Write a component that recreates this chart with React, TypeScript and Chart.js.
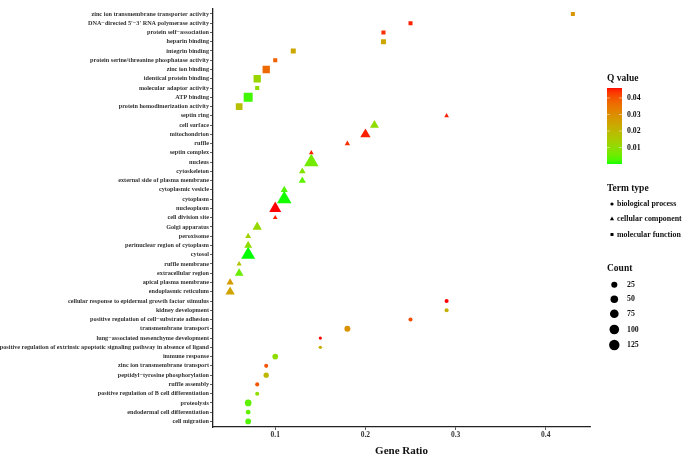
import { useEffect, useRef } from 'react';
import { Chart, registerables } from 'chart.js';
Chart.register(...registerables);

const categories = [
  'zinc ion transmembrane transporter activity',
  'DNA\u2212directed 5\'\u22123\' RNA polymerase activity',
  'protein self\u2212association',
  'heparin binding',
  'integrin binding',
  'protein serine/threonine phosphatase activity',
  'zinc ion binding',
  'identical protein binding',
  'molecular adaptor activity',
  'ATP binding',
  'protein homodimerization activity',
  'septin ring',
  'cell surface',
  'mitochondrion',
  'ruffle',
  'septin complex',
  'nucleus',
  'cytoskeleton',
  'external side of plasma membrane',
  'cytoplasmic vesicle',
  'cytoplasm',
  'nucleoplasm',
  'cell division site',
  'Golgi apparatus',
  'peroxisome',
  'perinuclear region of cytoplasm',
  'cytosol',
  'ruffle membrane',
  'extracellular region',
  'apical plasma membrane',
  'endoplasmic reticulum',
  'cellular response to epidermal growth factor stimulus',
  'kidney development',
  'positive regulation of cell\u2212substrate adhesion',
  'transmembrane transport',
  'lung\u2212associated mesenchyme development',
  'positive regulation of extrinsic apoptotic signaling pathway in absence of ligand',
  'immune response',
  'zinc ion transmembrane transport',
  'peptidyl\u2212tyrosine phosphorylation',
  'ruffle assembly',
  'positive regulation of B cell differentiation',
  'proteolysis',
  'endodermal cell differentiation',
  'cell migration',
];

const termTypes = [
  'MF', 'MF', 'MF', 'MF', 'MF', 'MF', 'MF', 'MF', 'MF', 'MF', 'MF',
  'CC', 'CC', 'CC', 'CC', 'CC', 'CC', 'CC', 'CC', 'CC', 'CC', 'CC', 'CC', 'CC', 'CC', 'CC', 'CC', 'CC', 'CC', 'CC', 'CC',
  'BP', 'BP', 'BP', 'BP', 'BP', 'BP', 'BP', 'BP', 'BP', 'BP', 'BP', 'BP', 'BP', 'BP',
];

const geneRatio = [
  0.43, 0.25, 0.22, 0.22, 0.12, 0.10, 0.09, 0.08, 0.08, 0.07, 0.06,
  0.29, 0.21, 0.20, 0.18, 0.14, 0.14, 0.13, 0.13, 0.11, 0.11, 0.10, 0.10, 0.08, 0.07, 0.07, 0.07, 0.06, 0.06, 0.05, 0.05,
  0.29, 0.29, 0.25, 0.18, 0.15, 0.15, 0.10, 0.09, 0.09, 0.08, 0.08, 0.07, 0.07, 0.07,
];

const qValue = [
  0.028, 0.045, 0.044, 0.024, 0.024, 0.038, 0.037, 0.012, 0.010, 0.002, 0.018,
  0.045, 0.010, 0.045, 0.044, 0.045, 0.006, 0.008, 0.004, 0.003, 0.0003, 0.046, 0.045, 0.011, 0.013, 0.010, 0.0001, 0.017, 0.005, 0.027, 0.025,
  0.046, 0.022, 0.041, 0.029, 0.046, 0.022, 0.010, 0.040, 0.020, 0.040, 0.010, 0.004, 0.004, 0.003,
];

const geneCount = [
  11, 11, 12, 24, 24, 12, 75, 75, 12, 130, 59,
  3, 37, 56, 6, 3, 140, 14, 19, 18, 140, 86, 3, 42, 9, 26, 128, 5, 34, 19, 42,
  7, 7, 7, 29, 2, 3, 25, 7, 20, 7, 7, 41, 12, 25,
];

const xTicks = [0.1, 0.2, 0.3, 0.4];
const qTicks = [0.01, 0.02, 0.03, 0.04];
const countBreaks = [25, 50, 75, 100, 125];
const termKeys = ['BP', 'CC', 'MF'];
const termNames = ['biological process', 'cellular component', 'molecular function'];

const FONT = "'Liberation Serif', 'Times New Roman', serif";

// ---------- colour scale (Lab interpolation green -> red) ----------
function toLab(rgb: number[]) {
  const lin = (c: number) => {
    c /= 255;
    return c <= 0.04045 ? c / 12.92 : Math.pow((c + 0.055) / 1.055, 2.4);
  };
  const [r, g, b] = rgb.map(lin);
  const X = (0.4124564 * r + 0.3575761 * g + 0.1804375 * b) / 0.95047;
  const Y = 0.2126729 * r + 0.7151522 * g + 0.072175 * b;
  const Z = (0.0193339 * r + 0.119192 * g + 0.9503041 * b) / 1.08883;
  const f = (t: number) => (t > 0.008856 ? Math.cbrt(t) : 7.787 * t + 16 / 116);
  const fx = f(X), fy = f(Y), fz = f(Z);
  return [116 * fy - 16, 500 * (fx - fy), 200 * (fy - fz)];
}
function fromLab(lab: number[]) {
  const [L, a, bb] = lab;
  const fy = (L + 16) / 116;
  const fx = fy + a / 500;
  const fz = fy - bb / 200;
  const inv = (t: number) => (t * t * t > 0.008856 ? t * t * t : (t - 16 / 116) / 7.787);
  const X = inv(fx) * 0.95047, Y = inv(fy), Z = inv(fz) * 1.08883;
  const r = 3.2404542 * X - 1.5371385 * Y - 0.4985314 * Z;
  const g = -0.969266 * X + 1.8760108 * Y + 0.041556 * Z;
  const b = 0.0556434 * X - 0.2040259 * Y + 1.0572252 * Z;
  const gam = (c: number) => {
    const v = c <= 0.0031308 ? 12.92 * c : 1.055 * Math.pow(c, 1 / 2.4) - 0.055;
    return Math.round(Math.max(0, Math.min(1, v)) * 255);
  };
  return `rgb(${gam(r)},${gam(g)},${gam(b)})`;
}
const LOW = toLab([0, 255, 0]);
const HIGH = toLab([255, 0, 0]);
const qMin = Math.min(...qValue);
const qMax = Math.max(...qValue);
function colorAtT(t: number) {
  const tt = Math.max(0, Math.min(1, t));
  return fromLab([0, 1, 2].map((i) => LOW[i] + (HIGH[i] - LOW[i]) * tt));
}
function qColor(q: number) {
  return colorAtT((q - qMin) / (qMax - qMin));
}

// ---------- size scale ----------
function baseR(c: number) {
  return 1.11 + 0.348 * Math.sqrt(c);
}
const shapeFactor: Record<string, number> = { BP: 1, CC: 1.6, MF: 1.253 };
const shapeStyle: Record<string, string> = { BP: 'circle', CC: 'triangle', MF: 'rect' };

const legendPlugin = {
  id: 'ggLegends',
  afterDraw(chart: any) {
    const ctx = chart.ctx as CanvasRenderingContext2D;
    ctx.save();
    ctx.textAlign = 'left';
    ctx.textBaseline = 'middle';

    // Q value colourbar
    ctx.fillStyle = '#111';
    ctx.font = `bold 9.5px ${FONT}`;
    ctx.fillText('Q value', 607, 79);
    const barX = 607, barW = 15, barTop = 88, barBot = 164;
    for (let y = barTop; y < barBot; y++) {
      const t = 1 - (y + 0.5 - barTop) / (barBot - barTop);
      ctx.fillStyle = colorAtT(t);
      ctx.fillRect(barX, y, barW, 1);
    }
    ctx.font = `bold 7.8px ${FONT}`;
    qTicks.forEach((v) => {
      const y = barBot - ((v - qMin) / (qMax - qMin)) * (barBot - barTop);
      ctx.strokeStyle = 'rgba(255,255,255,0.8)';
      ctx.lineWidth = 0.6;
      ctx.beginPath();
      ctx.moveTo(barX, y);
      ctx.lineTo(barX + 3, y);
      ctx.moveTo(barX + barW - 3, y);
      ctx.lineTo(barX + barW, y);
      ctx.stroke();
      ctx.fillStyle = '#111';
      ctx.fillText(v.toFixed(2), 627, y);
    });

    // Term type
    ctx.font = `bold 9.5px ${FONT}`;
    ctx.fillText('Term type', 607, 189);
    ctx.font = `bold 7.9px ${FONT}`;
    const termY = [204, 219, 234.5];
    termKeys.forEach((k, i) => {
      const y = termY[i];
      const x = 612;
      ctx.fillStyle = '#000';
      ctx.beginPath();
      if (k === 'BP') {
        ctx.arc(x, y, 1.6, 0, Math.PI * 2);
      } else if (k === 'CC') {
        ctx.moveTo(x, y - 2.4);
        ctx.lineTo(x + 2.1, y + 1.3);
        ctx.lineTo(x - 2.1, y + 1.3);
        ctx.closePath();
      } else {
        ctx.rect(x - 1.5, y - 1.5, 3, 3);
      }
      ctx.fill();
      ctx.fillStyle = '#111';
      ctx.fillText(termNames[i], 617, y);
    });

    // Count
    ctx.font = `bold 9.5px ${FONT}`;
    ctx.fillText('Count', 607, 269);
    ctx.font = `bold 7.8px ${FONT}`;
    const countY = [284.7, 299.3, 313.7, 329.5, 345];
    countBreaks.forEach((c, i) => {
      ctx.fillStyle = '#000';
      ctx.beginPath();
      ctx.arc(614.3, countY[i], baseR(c) + 0.2, 0, Math.PI * 2);
      ctx.fill();
      ctx.fillStyle = '#111';
      ctx.fillText(String(c), 627, countY[i]);
    });
    ctx.restore();
  },
};

export default function App() {
  const ref = useRef<HTMLCanvasElement>(null);
  useEffect(() => {
    if (!ref.current) return;
    const datasets = termKeys.map((k) => {
      const data: any[] = [];
      categories.forEach((_, i) => {
        if (termTypes[i] === k) {
          data.push({ x: geneRatio[i], y: i, c: geneCount[i], q: qValue[i] });
        }
      });
      return {
        label: k,
        data,
        pointStyle: shapeStyle[k],
        pointRadius: (c: any) => (c.raw ? baseR(c.raw.c) * shapeFactor[k] : 0),
        pointBackgroundColor: (c: any) => (c.raw ? qColor(c.raw.q) : '#000'),
        pointBorderWidth: 0,
        pointBorderColor: 'rgba(0,0,0,0)',
      };
    });
    const chart = new Chart(ref.current, {
      type: 'scatter',
      data: { datasets },
      plugins: [legendPlugin],
      options: {
        animation: false,
        responsive: true,
        maintainAspectRatio: false,
        events: [],
        layout: { padding: { top: 0, right: 95, bottom: 0, left: 0 } },
        plugins: { legend: { display: false }, tooltip: { enabled: false } },
        scales: {
          x: {
            type: 'linear',
            min: 0.031,
            max: 0.449,
            afterBuildTicks: (s: any) => {
              s.ticks = xTicks.map((v) => ({ value: v }));
            },
            afterFit: (s: any) => {
              s.height = 28;
            },
            ticks: {
              callback: (v: any) => String(Number(v).toFixed(1)),
              font: { family: FONT, size: 7.5, weight: 'bold' },
              color: '#333',
              padding: 1,
              maxRotation: 0,
            },
            grid: { drawOnChartArea: false, drawTicks: true, tickLength: 3, color: '#333', lineWidth: 0.8 },
            border: { display: true, color: '#222', width: 1.3 },
            title: {
              display: true,
              text: 'Gene Ratio',
              font: { family: FONT, size: 11, weight: 'bold', lineHeight: 0.75 },
              color: '#111',
              padding: { top: 0, bottom: 0 },
            },
          },
          y: {
            type: 'linear',
            min: -0.6,
            max: categories.length - 1 + 0.6,
            reverse: true,
            afterBuildTicks: (s: any) => {
              s.ticks = categories.map((_, i) => ({ value: i }));
            },
            afterFit: (s: any) => {
              s.width = 213;
            },
            ticks: {
              autoSkip: false,
              callback: (v: any) => categories[Number(v)] ?? '',
              font: { family: FONT, size: 6.2, weight: 'bold' },
              color: '#333',
              padding: 1,
            },
            grid: { drawOnChartArea: false, drawTicks: true, tickLength: 3, color: '#333', lineWidth: 0.8 },
            border: { display: true, color: '#222', width: 1.3 },
          },
        },
      } as any,
    });
    return () => chart.destroy();
  }, []);
  return (
    <div style={{ position: 'absolute', left: 0, top: 0, width: 685, height: 455, background: '#fff' }}>
      <canvas ref={ref} />
    </div>
  );
}
